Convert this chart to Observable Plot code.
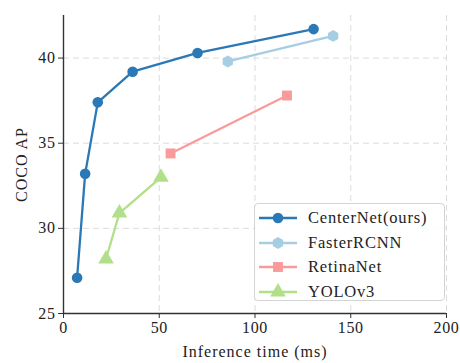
<!DOCTYPE html>
<html>
<head>
<meta charset="utf-8">
<script src="https://cdn.jsdelivr.net/npm/d3@7"></script>
<script src="https://cdn.jsdelivr.net/npm/@observablehq/plot@0.6"></script>
<style>
  html, body { margin: 0; padding: 0; background: #fff; }
  #wrap { position: relative; width: 460px; height: 363px; font-family: "Liberation Serif", serif; }
  #wrap svg, #wrap svg text { font-family: "Liberation Serif", serif !important; }
  #wrap svg g[aria-label="x-axis label"] text, #wrap svg g[aria-label="y-axis label"] text { letter-spacing: 1px; }
  #wrap svg g[aria-label="x-axis tick label"] text, #wrap svg g[aria-label="y-axis tick label"] text { letter-spacing: 0.6px; }
  #legend { position: absolute; left: 254px; top: 203px; width: 191px; height: 98px; border: 1px solid #d4d4d4; border-radius: 4px; background: rgba(255,255,255,0.85); box-sizing: border-box; padding-top: 2px; }
  .row { display: flex; align-items: center; height: 24.5px; }
  .row svg { margin-left: 3px; margin-right: 10px; }
  .row span { font-size: 16.5px; letter-spacing: 0.8px; color: #222; }
</style>
</head>
<body>
<div id="wrap"></div>
<script>
// Series names and colours
const seriesNames = ["CenterNet(ours)", "FasterRCNN", "RetinaNet", "YOLOv3"];
const seriesColors = ["#2a78b5", "#a6cee3", "#f99b9b", "#b2df8a"];
const seriesSymbols = ["circle", "hexagon", "square", "triangle"];

// Inference time (ms) and COCO AP, per series
const centerNetTime = [7.1, 11.3, 17.9, 36.1, 70.0, 130.6];
const centerNetAP   = [27.1, 33.2, 37.4, 39.2, 40.3, 41.7];
const fasterTime = [85.8, 140.8];
const fasterAP   = [39.8, 41.3];
const retinaTime = [55.9, 116.7];
const retinaAP   = [34.4, 37.8];
const yoloTime = [22.2, 29.2, 50.9];
const yoloAP   = [28.2, 30.9, 33.0];

const xTicks = [0, 50, 100, 150, 200];
const yTicks = [25, 30, 35, 40];
const xDomain = [0, 200];
const yDomain = [25, 42.5];

const hexagon = {
  draw(context, size) {
    const r = Math.sqrt(size / (1.5 * Math.sqrt(3)));
    for (let i = 0; i < 6; i++) {
      const a = Math.PI / 3 * i + Math.PI / 6;
      const x = r * Math.cos(a), y = r * Math.sin(a);
      if (i === 0) context.moveTo(x, y); else context.lineTo(x, y);
    }
    context.closePath();
  }
};

function build(times, aps, name) {
  return times.map((t, i) => ({ t, ap: aps[i], name }));
}
const data = [
  ...build(centerNetTime, centerNetAP, seriesNames[0]),
  ...build(fasterTime, fasterAP, seriesNames[1]),
  ...build(retinaTime, retinaAP, seriesNames[2]),
  ...build(yoloTime, yoloAP, seriesNames[3])
];

const symbolFor = n => {
  const s = seriesSymbols[seriesNames.indexOf(n)];
  return s === "hexagon" ? hexagon : s;
};
const colorFor = n => seriesColors[seriesNames.indexOf(n)];
// marker radius (Plot symbol area = pi * r^2)
const radiusFor = n => ({circle: 5.3, hexagon: 5.4, square: 5.6, triangle: 5.8})[seriesSymbols[seriesNames.indexOf(n)]];

const font = "'Liberation Serif', serif";
const marks = [
  Plot.gridX(xTicks.filter(v => v > 0), { stroke: "#dcdcdc", strokeOpacity: 1, strokeDasharray: "6,4", strokeWidth: 1 }),
  Plot.gridY(yTicks.filter(v => v > 25), { stroke: "#dcdcdc", strokeOpacity: 1, strokeDasharray: "6,4", strokeWidth: 1 }),
  Plot.axisX({ ticks: xTicks, tickSize: 5, tickPadding: 3, fontSize: 16, fontFamily: font, stroke: "#333", fill: "#222",
               label: "Inference time (ms)", labelAnchor: "center", labelOffset: 43, labelArrow: "none" }),
  Plot.axisY({ ticks: yTicks, tickSize: 5, tickPadding: 3, fontSize: 16, fontFamily: font, stroke: "#333", fill: "#222",
               label: "COCO AP", labelAnchor: "center", labelOffset: 48, labelArrow: "none" }),
  Plot.ruleX([xDomain[0]], { stroke: "#333", strokeWidth: 1.4 }),
  Plot.ruleY([yDomain[0]], { stroke: "#333", strokeWidth: 1.4 })
];
seriesNames.forEach(n => {
  const d = data.filter(r => r.name === n);
  marks.push(Plot.line(d, { x: "t", y: "ap", stroke: colorFor(n), strokeWidth: 2.3 }));
  marks.push(Plot.dot(d, { x: "t", y: "ap", fill: colorFor(n), stroke: "none", symbol: symbolFor(n), r: radiusFor(n) }));
});

const chart = Plot.plot({
  width: 460, height: 363,
  marginLeft: 63, marginRight: 14, marginTop: 15, marginBottom: 50,
  style: { fontFamily: font, fontSize: "16px", color: "#222", background: "#fff" },
  x: { domain: xDomain, label: "Inference time (ms)", labelArrow: "none" },
  y: { domain: yDomain, label: "COCO AP", labelArrow: "none" },
  marks
});
document.getElementById("wrap").appendChild(chart);

// Legend (HTML overlay)
const legend = document.createElement("div");
legend.id = "legend";
seriesNames.forEach((n, i) => {
  const row = document.createElement("div");
  row.className = "row";
  const svg = d3.create("svg").attr("width", 40).attr("height", 20);
  svg.append("line").attr("x1", 1).attr("x2", 39).attr("y1", 10).attr("y2", 10)
    .attr("stroke", seriesColors[i]).attr("stroke-width", 2.3);
  const sym = seriesSymbols[i] === "hexagon" ? hexagon :
    ({circle: d3.symbolCircle, square: d3.symbolSquare, triangle: d3.symbolTriangle})[seriesSymbols[i]];
  const r = radiusFor(n);
  svg.append("path").attr("d", d3.symbol(sym, Math.PI * r * r)()).attr("transform", "translate(20,10)")
    .attr("fill", seriesColors[i]);
  row.appendChild(svg.node());
  const sp = document.createElement("span");
  sp.textContent = n;
  row.appendChild(sp);
  legend.appendChild(row);
});
document.getElementById("wrap").appendChild(legend);
</script>
</body>
</html>
